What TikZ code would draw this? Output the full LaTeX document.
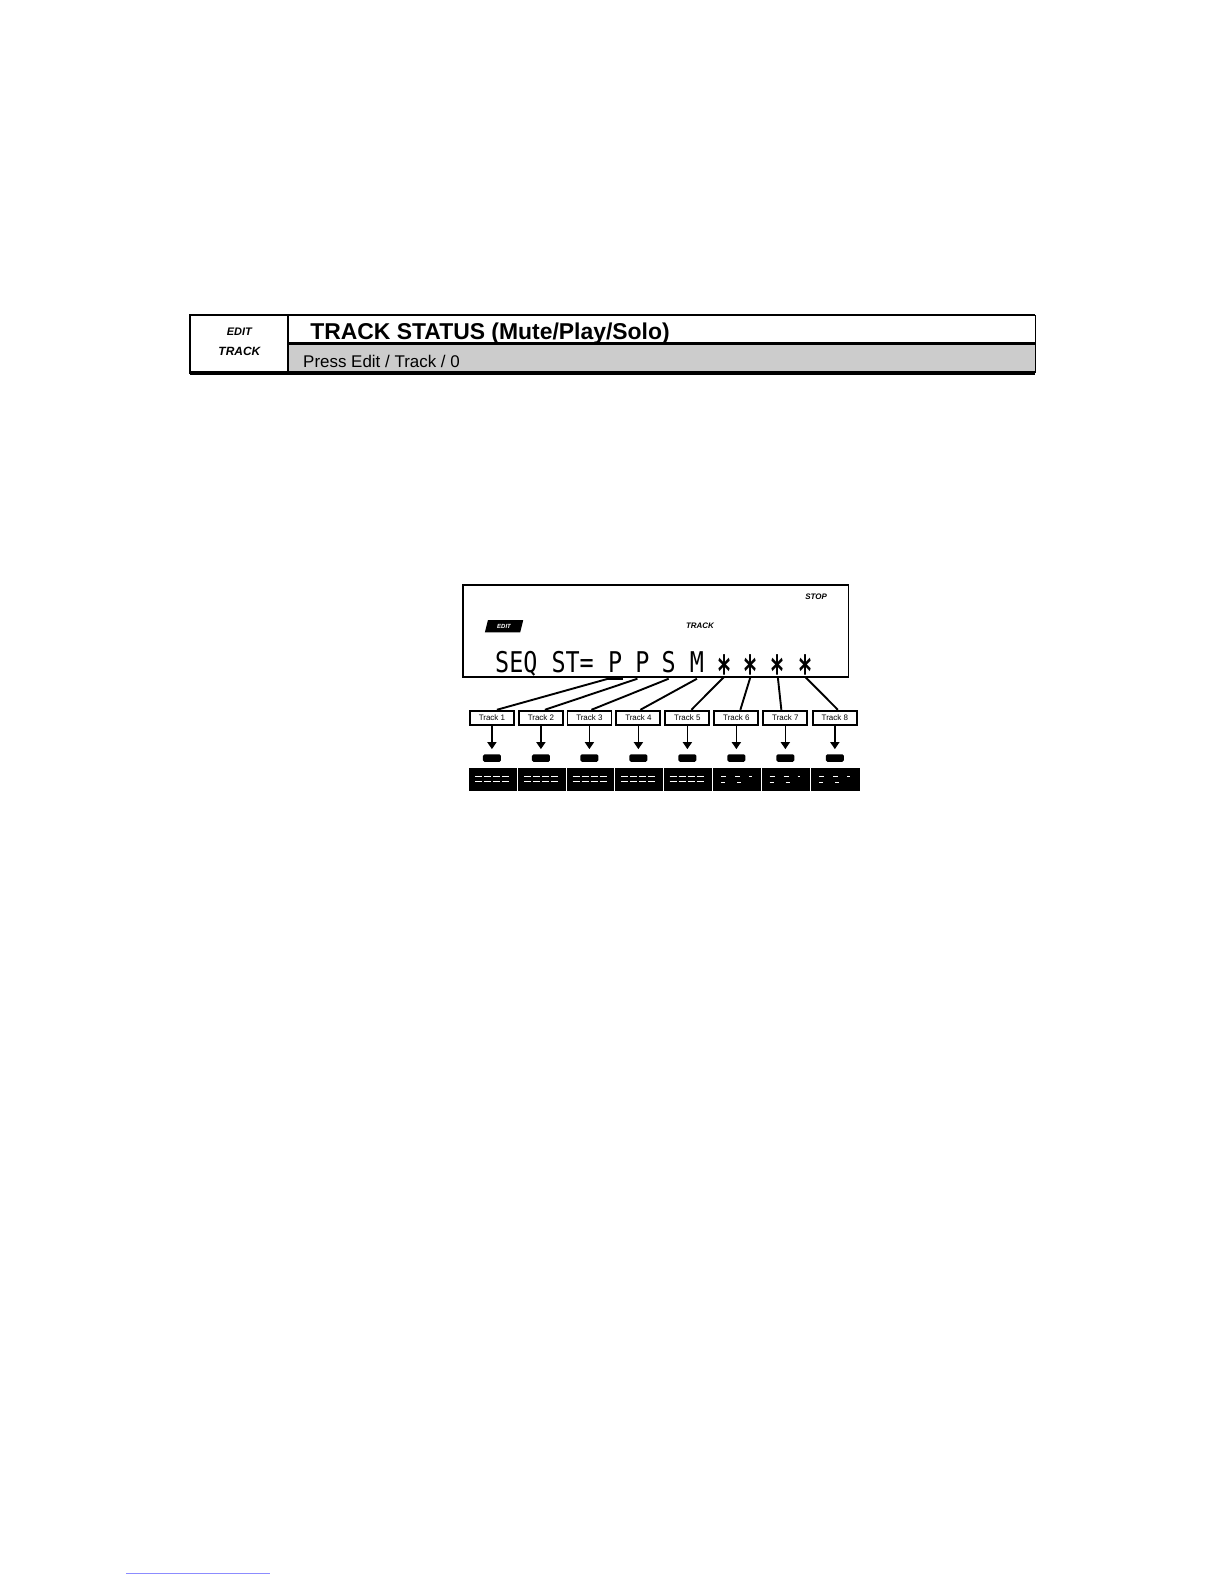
\documentclass[tikz,border=0pt]{standalone}
\usepackage{fontspec}
\setmainfont{Liberation Sans}
\newfontfamily\lcdfont{DejaVu Sans Mono}
\usetikzlibrary{arrows.meta}
\tikzset{
  hdrline/.style={line width=2.6bp, black},
  trackbox/.style={draw=black, line width=1.8bp, fill=white, minimum width=44bp, minimum height=14bp, inner sep=0pt, font=\fontsize{8}{9}\selectfont},
  lcdchar/.style={font=\lcdfont\fontsize{23.5}{24}\selectfont, inner sep=0pt, anchor=base, yscale=1.22},
  conn/.style={line width=1.9bp, black},
  downarrow/.style={line width=1.6bp, -{Triangle[width=9bp,length=7bp]}},
  led/.style={fill=black, rounded corners=1.5bp, minimum width=18bp, minimum height=7.5bp, inner sep=0pt},
  scribble/.style={white, line width=0.7bp, dash pattern=on 7bp off 2bp}
}
\newcommand{\lcdstar}{\raisebox{-0.5em}{\scalebox{1.0}[1.55]{\textbf{*}}}}
\begin{document}
\begin{tikzpicture}[x=1.0101bp,y=-1.0101bp]
\useasboundingbox (0,0) rectangle (1211.76,1568.16);
\fill[white] (0,0) rectangle (1211.76,1568.16);

% ---------- header ----------
\fill[black!20] (285,340) rectangle (1025,369);
\draw[line width=1bp] (1025,312) -- (1025,369);
\draw[hdrline] (188,312) -- (1025,312);
\draw[hdrline] (188,312) rectangle (285,369);
\draw[hdrline] (285,340) -- (1025,340);
\draw[line width=3.6bp] (188,369) -- (1025,369);
\node[font=\bfseries\itshape\fontsize{11}{12}\selectfont, inner sep=0pt] (hedit) at (237,328) {EDIT};
\node[font=\bfseries\itshape\fontsize{12}{13}\selectfont, inner sep=0pt] (htrack) at (237,348) {TRACK};
\node[font=\bfseries\fontsize{23}{24}\selectfont, anchor=base west, inner sep=0pt] (title) at (307,336) {TRACK STATUS (Mute/Play/Solo)};
\node[font=\fontsize{17}{18}\selectfont, anchor=base west, inner sep=0pt] (sub) at (300,364) {Press Edit / Track / 0};

% ---------- LCD ----------
\draw[line width=1.8bp] (458,579) rectangle (840,670);
\node[font=\bfseries\itshape\fontsize{8}{9}\selectfont, inner sep=0pt] (stop) at (808,591) {STOP};
\fill[black] (483,614) -- (518,614) -- (515,626) -- (480,626) -- cycle;
\node[font=\bfseries\itshape\fontsize{6}{7}\selectfont, text=white, inner sep=0pt] (ledit) at (499,620) {EDIT};
\node[font=\bfseries\itshape\fontsize{8}{9}\selectfont, inner sep=0pt] (ltrack) at (693,619) {TRACK};

\node[lcdchar, anchor=base west] (seq) at (490,666) {SEQ ST=};
\node[lcdchar] (c1) at (609,666) {P};
\node[lcdchar] (c2) at (636,666) {P};
\node[lcdchar] (c3) at (662,666) {S};
\node[lcdchar] (c4) at (690,666) {M};
\node[lcdchar] (c5) at (717,666) {\lcdstar};
\node[lcdchar] (c6) at (743,666) {\lcdstar};
\node[lcdchar] (c7) at (770,666) {\lcdstar};
\node[lcdchar] (c8) at (797,666) {\lcdstar};
\coordinate (cur1) at (601,672);
\coordinate (cur2) at (617,672);
\draw[line width=1.5bp] (cur1) -- (cur2);

% ---------- track buttons ----------
\node[trackbox] (t1) at (487,710.5) {Track 1};
\node[trackbox] (t2) at (535.5,710.5) {Track 2};
\node[trackbox] (t3) at (583.5,710.5) {Track 3};
\node[trackbox] (t4) at (632,710.5) {Track 4};
\node[trackbox] (t5) at (680.5,710.5) {Track 5};
\node[trackbox] (t6) at (729,710.5) {Track 6};
\node[trackbox] (t7) at (777.5,710.5) {Track 7};
\node[trackbox] (t8) at (826.5,710.5) {Track 8};

\draw[conn] ([xshift=-7bp,yshift=-6bp]c1.base) -- ([xshift=5bp]t1.north);
\draw[conn] ([xshift=-5bp,yshift=-6bp]c2.base) -- ([xshift=4bp]t2.north);
\draw[conn] ([yshift=-6bp]c3.base) -- ([xshift=2bp]t3.north);
\draw[conn] ([yshift=-6bp]c4.base) -- ([xshift=2bp]t4.north);
\draw[conn] ([yshift=-4bp]c5.base) -- ([xshift=4bp]t5.north);
\draw[conn] ([yshift=-4bp]c6.base) -- ([xshift=4bp]t6.north);
\draw[conn] ([yshift=-4bp]c7.base) -- ([xshift=-4bp]t7.north);
\draw[conn] ([yshift=-4bp]c8.base) -- ([xshift=3bp]t8.north);

% ---------- LEDs and arrows ----------
\foreach \i/\x in {1/487,2/535.5,3/583.5,4/632,5/680.5,6/729,7/777.5,8/826.5}{
  \node[led] (l\i) at (\x,750.5) {};
  \draw[downarrow] (t\i.south) -- ([yshift=5bp]l\i.north);
}

% ---------- bottom bar ----------
\foreach \a/\b in {464/512,513/560,561/608,609/656,657/705,706/753,754/802,803/851}{
  \fill[black] (\a,760) rectangle (\b,783);
}
\foreach \a in {464,513,561,609,657}{
  \draw[scribble] (\a+6,769) -- (\a+40,769);
  \draw[scribble] (\a+6,774) -- (\a+40,774);
}
\foreach \a in {706,754,803}{
  \draw[white, line width=0.6bp, dash pattern=on 5bp off 9bp] (\a+8,769) -- (\a+38,769);
  \draw[white, line width=0.6bp, dash pattern=on 4bp off 12bp] (\a+8,774) -- (\a+38,774);
}

% ---------- page rule ----------
\draw[blue!45, line width=0.8bp] (125,1558) -- (267,1558);
\end{tikzpicture}
\end{document}
